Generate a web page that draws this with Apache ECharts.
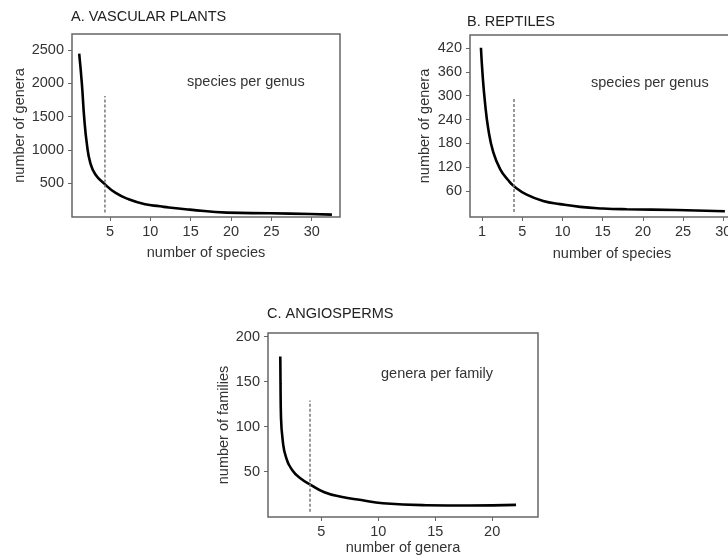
<!DOCTYPE html>
<html>
<head>
<meta charset="utf-8">
<script src="https://cdn.jsdelivr.net/npm/echarts@6/dist/echarts.min.js"></script>
<style>
  html, body { margin: 0; padding: 0; background: #fff; }
  #chart { width: 728px; height: 556px; }
</style>
</head>
<body>
<div id="chart"></div>
<script>
// A. vascular plants: species per genus
const plantsX = [1.19, 1.53, 1.81, 2.15, 2.56, 3.18, 4.29, 5.66, 7.32, 9.38, 11.2, 12.3, 14.9, 19.5, 24.85, 29.8, 32.5];
const plantsY = [2449, 1986, 1485, 1083, 807, 631, 491, 355, 255, 179, 149, 130, 99, 54, 44, 33, 24];
const plantsCut = [[4.38, 54], [4.38, 1810]];

// B. reptiles: species per genus
const reptX = [-0.14, 0.07, 0.36, 0.77, 1.39, 2.23, 3.26, 4.09, 5.55, 7.6, 9.7, 12.2, 15, 18, 24.2, 30.2];
const reptY = [421, 352, 284, 217, 158, 116, 87, 70, 51, 35, 27, 20, 16, 14, 12.1, 8.8];
const reptCut = [[3.97, 7], [3.97, 297]];

// C. angiosperms: genera per family
const angioX = [1.39, 1.41, 1.45, 1.6, 1.89, 2.48, 3.21, 4.09, 5.26, 6.72, 8.5, 10.4, 14.2, 18, 22.1];
const angioY = [178, 148, 111, 85, 66, 51, 42, 35, 27, 22, 18.3, 14.8, 12.6, 12.2, 13];
const angioCut = [[4.0, 5.2], [4.0, 129]];

const plantsTicksY = [500, 1000, 1500, 2000, 2500];
const plantsTicksX = [5, 10, 15, 20, 25, 30];
const reptTicksY = [60, 120, 180, 240, 300, 360, 420];
const reptTicksX = [0, 5, 10, 15, 20, 25, 30];   // first tick is printed as "1"
const angioTicksY = [50, 100, 150, 200];
const angioTicksX = [5, 10, 15, 20];

const FONT = 'Liberation Sans, Arial, sans-serif';
const FS = 14.5;
const pair = (xs, ys) => xs.map((x, i) => [x, ys[i]]);

function xAxisOf(idx, min, max, ticks, name, gap, fmt) {
    return {
        type: 'value', gridIndex: idx, min: min, max: max,
        name: name, nameLocation: 'middle', nameGap: gap,
        nameTextStyle: { fontFamily: FONT, fontSize: FS, color: '#333' },
        axisLine: { show: false, onZero: false },
        axisTick: { show: true, length: 4, inside: false, customValues: ticks, lineStyle: { color: '#666' } },
        axisLabel: { customValues: ticks, margin: 7, fontFamily: FONT, fontSize: FS, color: '#333',
                     formatter: fmt || (v => String(v)) },
        splitLine: { show: false }
    };
}
function yAxisOf(idx, min, max, ticks, name, gap) {
    return {
        type: 'value', gridIndex: idx, min: min, max: max,
        name: name, nameLocation: 'middle', nameGap: gap, nameRotate: 90,
        nameTextStyle: { fontFamily: FONT, fontSize: FS, color: '#333' },
        axisLine: { show: false, onZero: false },
        axisTick: { show: true, length: 4, customValues: ticks, lineStyle: { color: '#666' } },
        axisLabel: { customValues: ticks, margin: 8, fontFamily: FONT, fontSize: FS, color: '#333',
                     formatter: v => String(v) },
        splitLine: { show: false }
    };
}
function curve(idx, data) {
    return {
        type: 'line', xAxisIndex: idx, yAxisIndex: idx, data: data,
        smooth: 0.5, showSymbol: false, silent: true,
        lineStyle: { color: '#000', width: 2.6 }
    };
}
function cutLine(idx, data) {
    return {
        type: 'line', xAxisIndex: idx, yAxisIndex: idx, data: data,
        showSymbol: false, silent: true,
        lineStyle: { color: '#777', width: 1.5, type: [3, 2] }
    };
}

const chart = echarts.init(document.getElementById('chart'));
const border = { show: true, borderColor: '#666', borderWidth: 1.5, backgroundColor: 'transparent', outerBoundsMode: 'none' };
const titleStyle = { fontFamily: FONT, fontSize: FS, fontWeight: 'normal', color: '#222' };
chart.setOption({
    animation: false,
    textStyle: { fontFamily: FONT },
    title: [
        { text: 'A. VASCULAR PLANTS', left: 66, top: 4, textStyle: titleStyle },
        { text: 'B. REPTILES', left: 462, top: 9, textStyle: titleStyle },
        { text: 'C. ANGIOSPERMS', left: 262, top: 301, textStyle: titleStyle }
    ],
    grid: [
        Object.assign({ left: 72, top: 34, width: 268, height: 183 }, border),
        Object.assign({ left: 470, top: 35, width: 284, height: 182 }, border),
        Object.assign({ left: 268, top: 333, width: 270, height: 184 }, border)
    ],
    xAxis: [
        xAxisOf(0, 0.3, 33.5, plantsTicksX, 'number of species', 28),
        xAxisOf(1, -1.5, 33.82, reptTicksX, 'number of species', 29, v => (v === 0 ? '1' : String(v))),
        xAxisOf(2, 0.31, 24.03, angioTicksX, 'number of genera', 23)
    ],
    yAxis: [
        yAxisOf(0, -12, 2745, plantsTicksY, 'number of genera', 44),
        yAxisOf(1, -5.5, 453, reptTicksY, 'number of genera', 38),
        yAxisOf(2, -0.5, 204, angioTicksY, 'number of families', 35)
    ],
    graphic: [
        { type: 'text', left: 187, top: 74, style: { text: 'species per genus', font: FS + 'px ' + FONT, fill: '#333' } },
        { type: 'text', left: 591, top: 75, style: { text: 'species per genus', font: FS + 'px ' + FONT, fill: '#333' } },
        { type: 'text', left: 381, top: 366, style: { text: 'genera per family', font: FS + 'px ' + FONT, fill: '#333' } }
    ],
    series: [
        curve(0, pair(plantsX, plantsY)),
        cutLine(0, plantsCut),
        curve(1, pair(reptX, reptY)),
        cutLine(1, reptCut),
        curve(2, pair(angioX, angioY)),
        cutLine(2, angioCut)
    ]
});
</script>
</body>
</html>
